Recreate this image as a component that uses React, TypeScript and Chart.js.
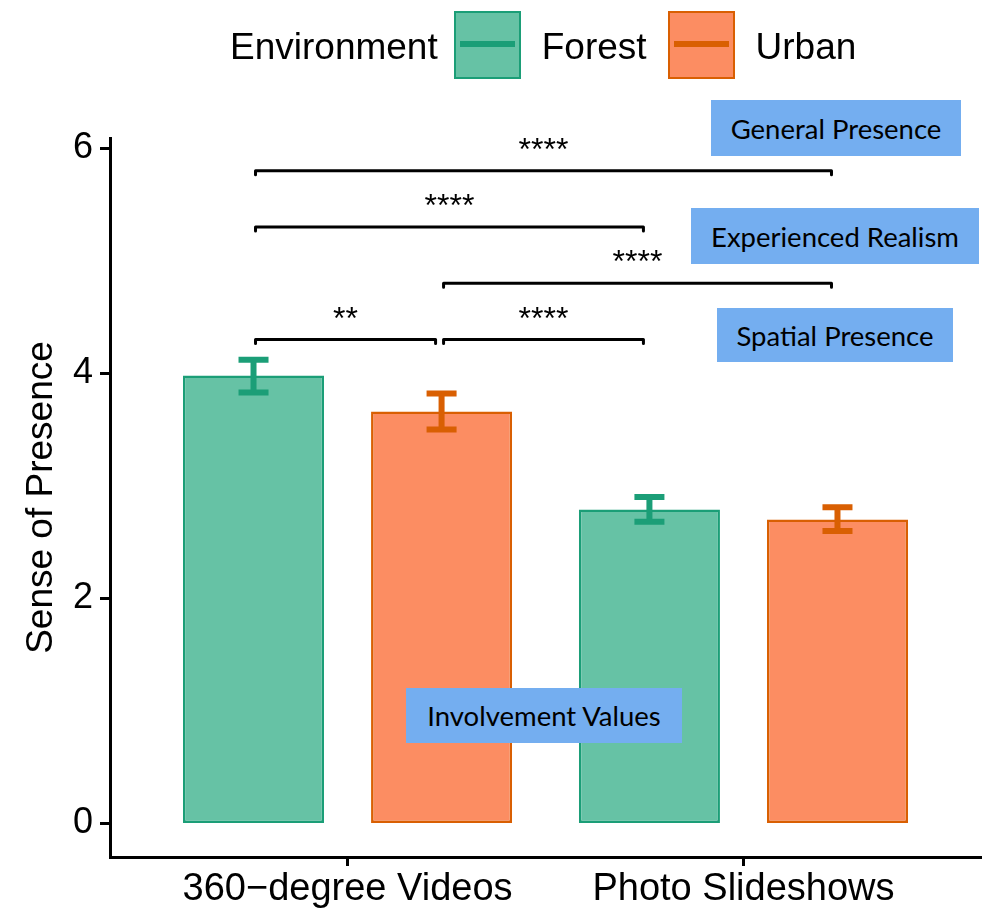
import React, { useEffect, useRef } from 'react';
import { Chart, registerables } from 'chart.js';

Chart.register(...registerables);

// ---- data ----
const categories = ['360−degree Videos', 'Photo Slideshows'];
const seriesNames = ['Forest', 'Urban'];
const forestMeans = [3.98, 2.79];
const urbanMeans = [3.66, 2.7];
const forestLower = [3.83, 2.68];
const forestUpper = [4.12, 2.9];
const urbanLower = [3.5, 2.6];
const urbanUpper = [3.82, 2.81];
const yTicks = [0, 2, 4, 6];
const legendTitle = 'Environment';
const yTitle = 'Sense of Presence';

// significance brackets: from [dataset, category] to [dataset, category]
const bracketLevels = [5.8, 5.3, 4.8, 4.3, 4.3];
const bracketLabels = ['****', '****', '****', '**', '****'];
const bracketFrom = [[0, 0], [0, 0], [1, 0], [0, 0], [1, 0]];
const bracketTo = [[1, 1], [0, 1], [1, 1], [1, 0], [0, 1]];

const annotationLabels = ['General Presence', 'Experienced Realism', 'Spatial Presence', 'Involvement Values'];

// ---- styles ----
const FONT = "'Liberation Sans', Arial, Helvetica, sans-serif";
const fills = ['#66C2A5', '#FC8D62'];
const edges = ['#1B9E77', '#D95F02'];
const annotationBoxes = [
  { left: 711, top: 100, width: 250, height: 56 },
  { left: 691, top: 208, width: 288, height: 56 },
  { left: 717, top: 308, width: 236, height: 54 },
  { left: 406, top: 688, width: 276, height: 55 },
];

const overlayPlugin = {
  id: 'overlay',
  afterDatasetsDraw(chart: any) {
    const ctx = chart.ctx;
    const ys = chart.scales.y;
    const lowers = [forestLower, urbanLower];
    const uppers = [forestUpper, urbanUpper];
    ctx.save();
    // error bars
    for (let d = 0; d < 2; d++) {
      const meta = chart.getDatasetMeta(d);
      meta.data.forEach((bar: any, i: number) => {
        const x = bar.x;
        const yl = ys.getPixelForValue(lowers[d][i]);
        const yh = ys.getPixelForValue(uppers[d][i]);
        ctx.strokeStyle = edges[d];
        ctx.lineWidth = 6;
        ctx.lineCap = 'butt';
        ctx.beginPath();
        ctx.moveTo(x, yl);
        ctx.lineTo(x, yh);
        ctx.moveTo(x - 15, yl);
        ctx.lineTo(x + 15, yl);
        ctx.moveTo(x - 15, yh);
        ctx.lineTo(x + 15, yh);
        ctx.stroke();
      });
    }
    // significance brackets
    ctx.strokeStyle = '#000';
    ctx.fillStyle = '#000';
    ctx.lineWidth = 3;
    ctx.lineJoin = 'round';
    ctx.lineCap = 'round';
    ctx.font = `32px ${FONT}`;
    ctx.textAlign = 'center';
    ctx.textBaseline = 'alphabetic';
    bracketLevels.forEach((lvl, k) => {
      const a = chart.getDatasetMeta(bracketFrom[k][0]).data[bracketFrom[k][1]];
      const b = chart.getDatasetMeta(bracketTo[k][0]).data[bracketTo[k][1]];
      const x1 = a.x + 2;
      const x2 = b.x - 6;
      const py = ys.getPixelForValue(lvl);
      ctx.beginPath();
      ctx.moveTo(x1, py + 4);
      ctx.lineTo(x1, py);
      ctx.lineTo(x2, py);
      ctx.lineTo(x2, py + 4);
      ctx.stroke();
      ctx.fillText(bracketLabels[k], (x1 + x2) / 2, py - 11);
    });
    ctx.restore();
  },
};

export default function App() {
  const canvasRef = useRef<HTMLCanvasElement>(null);

  useEffect(() => {
    const canvas = canvasRef.current;
    if (!canvas) return;
    const means = [forestMeans, urbanMeans];
    const chart = new Chart(canvas, {
      type: 'bar',
      data: {
        datasets: seriesNames.map((name, d) => ({
          label: name,
          data: means[d].map((v, i) => ({ x: i, y: v })),
          backgroundColor: fills[d],
          borderColor: edges[d],
          borderWidth: 2.5,
          borderSkipped: false,
          categoryPercentage: 0.95,
          barPercentage: 0.75,
        })),
      },
      options: {
        animation: false,
        responsive: false,
        maintainAspectRatio: false,
        devicePixelRatio: 1,
        layout: { padding: { left: 0, right: 6, top: 138, bottom: 0 } },
        plugins: {
          legend: { display: false },
          tooltip: { enabled: false },
          title: { display: false },
        },
        scales: {
          x: {
            type: 'linear',
            min: -0.6,
            max: 1.6,
            offset: false,
            afterBuildTicks: (s: any) => {
              s.ticks = categories.map((_, i) => ({ value: i }));
            },
            afterFit: (s: any) => {
              s.height = 54;
            },
            grid: {
              display: true,
              offset: false,
              drawOnChartArea: false,
              drawTicks: true,
              tickLength: 9,
              tickWidth: 3,
              tickColor: '#000',
            },
            border: { display: true, color: '#000', width: 3 },
            ticks: {
              callback: (v: any) => categories[v] ?? '',
              font: { family: FONT, size: 38 },
              color: '#000',
              padding: 1,
              maxRotation: 0,
              autoSkip: false,
            },
          },
          y: {
            type: 'linear',
            min: -0.297,
            max: 6.09,
            afterBuildTicks: (s: any) => {
              s.ticks = yTicks.map((v) => ({ value: v }));
            },
            afterFit: (s: any) => {
              s.width = 110;
            },
            grid: {
              display: true,
              offset: false,
              drawOnChartArea: false,
              drawTicks: true,
              tickLength: 10,
              tickWidth: 3,
              tickColor: '#000',
            },
            border: { display: true, color: '#000', width: 3 },
            ticks: {
              font: { family: FONT, size: 36 },
              color: '#000',
              padding: 7,
            },
            title: {
              display: true,
              text: yTitle,
              font: { family: FONT, size: 37 },
              color: '#000',
              padding: { top: 20, bottom: 0 },
            },
          },
        },
      },
      plugins: [overlayPlugin],
    } as any);
    return () => chart.destroy();
  }, []);

  const legendText: React.CSSProperties = {
    fontFamily: FONT,
    fontSize: 37,
    color: '#000',
    lineHeight: '68px',
    whiteSpace: 'nowrap',
  };

  const legendKey = (d: number, ml: number): React.CSSProperties => ({
    position: 'relative',
    width: 67,
    height: 68,
    boxSizing: 'border-box',
    border: `2.5px solid ${edges[d]}`,
    background: fills[d],
    marginLeft: ml,
  });

  return (
    <div style={{ position: 'absolute', left: 0, top: 0, width: 987, height: 911, background: '#fff' }}>
      <canvas ref={canvasRef} width={987} height={911} style={{ display: 'block', width: 987, height: 911 }} />
      <div
        style={{
          position: 'absolute',
          left: 230,
          top: 11,
          height: 68,
          display: 'flex',
          alignItems: 'center',
        }}
      >
        <span style={{ ...legendText, position: 'relative', top: 2 }}>{legendTitle}</span>
        {seriesNames.map((name, d) => (
          <React.Fragment key={name}>
            <div style={legendKey(d, d === 0 ? 16 : 21)}>
              <div
                style={{
                  position: 'absolute',
                  left: 4,
                  right: 4,
                  top: 28,
                  height: 6,
                  background: edges[d],
                }}
              />
            </div>
            <span style={{ ...legendText, marginLeft: 21, position: 'relative', top: 2 }}>{name}</span>
          </React.Fragment>
        ))}
      </div>
      {annotationLabels.map((label, k) => (
        <div
          key={label}
          style={{
            position: 'absolute',
            ...annotationBoxes[k],
            background: '#74AEF0',
            display: 'flex',
            alignItems: 'center',
            justifyContent: 'center',
            fontFamily: "Lato, 'Noto Sans', sans-serif",
            fontSize: 27.5,
            color: '#000',
            whiteSpace: 'nowrap',
          }}
        >
          {label}
        </div>
      ))}
    </div>
  );
}
